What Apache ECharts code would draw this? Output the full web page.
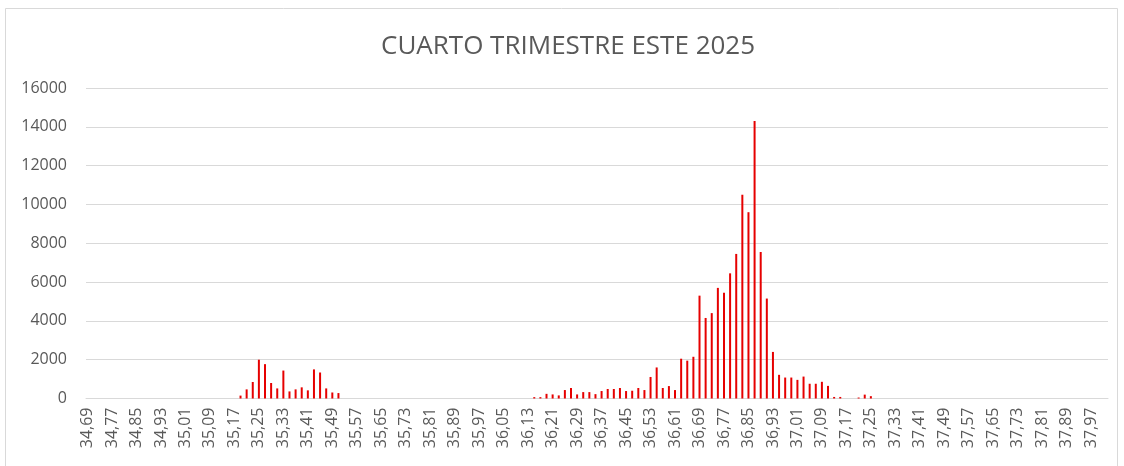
<!DOCTYPE html>
<html>
<head>
<meta charset="utf-8">
<script src="https://cdn.jsdelivr.net/npm/echarts@6/dist/echarts.min.js"></script>
<style>
  html, body { margin: 0; padding: 0; background: #fff; }
  #main { width: 1124px; height: 466px; }
</style>
</head>
<body>
<div id="main"></div>
<script>
// categorias 34,69 ... 38,02 en pasos de 0,01 (etiqueta cada 8)
const firstBin = 3469;
const lastBin = 3802;
const categories = [];
for (let i = firstBin; i <= lastBin; i++) {
  categories.push((i / 100).toFixed(2).replace(".", ","));
}

// barras
const binLabels = [
  "35,19", "35,21", "35,23", "35,25", "35,27", "35,29", "35,31", "35,33", "35,35",
  "35,37", "35,39", "35,41", "35,43", "35,45", "35,47", "35,49", "35,51",
  "36,15", "36,17", "36,19", "36,21", "36,23", "36,25", "36,27", "36,29", "36,31",
  "36,33", "36,35", "36,37", "36,39", "36,41", "36,43", "36,45", "36,47", "36,49",
  "36,51", "36,53", "36,55", "36,57", "36,59", "36,61", "36,63", "36,65", "36,67",
  "36,69", "36,71", "36,73", "36,75", "36,77", "36,79", "36,81", "36,83", "36,85",
  "36,87", "36,89", "36,91", "36,93", "36,95", "36,97", "36,99", "37,01", "37,03",
  "37,05", "37,07", "37,09", "37,11", "37,13", "37,15", "37,21", "37,23", "37,25"
];
const binCounts = [
  150, 470, 850, 2000, 1770, 800, 520, 1440, 365,
  470, 575, 420, 1500, 1340, 520, 310, 280,
  70, 70, 240, 210, 160, 435, 540, 210, 330,
  330, 225, 385, 490, 490, 540, 385, 400, 540,
  435, 1110, 1600, 540, 640, 435, 2050, 1950, 2150,
  5300, 4150, 4400, 5700, 5450, 6450, 7450, 10500, 9600,
  14300, 7550, 5150, 2400, 1220, 1080, 1080, 960, 1130,
  760, 760, 860, 650, 80, 80, 50, 200, 120
];

const yTicks = [0, 2000, 4000, 6000, 8000, 10000, 12000, 14000, 16000];
const title = "CUARTO TRIMESTRE ESTE 2025";

const countByBin = {};
binLabels.forEach((b, i) => { countByBin[b] = binCounts[i]; });
const seriesData = categories.map(c => (c in countByBin ? countByBin[c] : "-"));

const chart = echarts.init(document.getElementById("main"));
const option = {
  animation: false,
  backgroundColor: "#ffffff",
  title: {
    text: title,
    left: 376,
    top: 29,
    textStyle: {
      fontFamily: "Open Sans",
      fontSize: 26,
      fontWeight: "normal",
      color: "#595959"
    }
  },
  graphic: [{
    type: "rect",
    shape: { x: 5.5, y: 8.5, width: 1112, height: 480 },
    style: { fill: "none", stroke: "#d9d9d9", lineWidth: 1 },
    silent: true
  }],
  grid: { left: 86, right: 16, top: 88, bottom: 67.5 },
  xAxis: {
    type: "category",
    data: categories,
    axisLine: { lineStyle: { color: "#d9d9d9", width: 1 } },
    axisTick: { show: false },
    axisLabel: {
      interval: 7,
      rotate: 90,
      margin: 9,
      fontFamily: "Open Sans",
      fontSize: 16,
      color: "#595959"
    }
  },
  yAxis: {
    type: "value",
    min: yTicks[0],
    max: yTicks[yTicks.length - 1],
    interval: 2000,
    axisLine: { show: false },
    axisTick: { show: false },
    splitLine: { lineStyle: { color: "#d9d9d9", width: 1 } },
    axisLabel: {
      margin: 19,
      fontFamily: "Open Sans",
      fontSize: 16,
      color: "#595959",
      formatter: v => String(v)
    }
  },
  series: [{
    type: "bar",
    data: seriesData,
    barWidth: 2,
    itemStyle: { color: "#e60000" }
  }]
};
chart.setOption(option);
</script>
</body>
</html>
